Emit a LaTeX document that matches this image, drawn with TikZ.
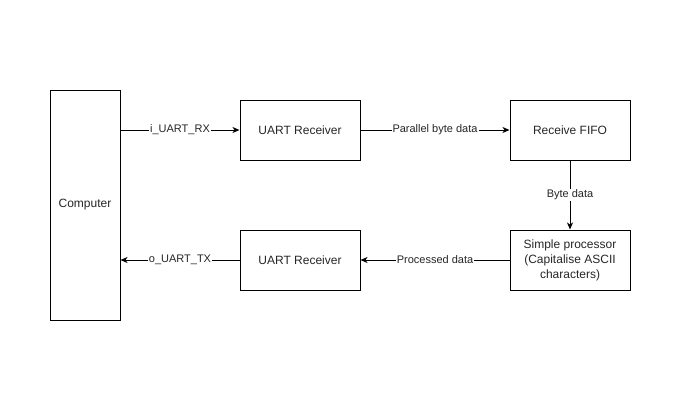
\documentclass[tikz,border=0pt]{standalone}
\usepackage{fontspec}
\setmainfont{Liberation Sans}
\usetikzlibrary{arrows.meta,positioning,calc}

\begin{document}
\begin{tikzpicture}[
  x=1pt, y=-1pt,
  block/.style={
    draw, rectangle, line width=1pt,
    minimum width=120pt, minimum height=60pt,
    align=center, font=\fontsize{12}{15}\selectfont, text=black!85
  },
  edge/.style={-{Stealth[length=7pt,width=6pt,inset=2pt]}, line width=1pt},
  elabel/.style={font=\fontsize{11}{13}\selectfont, fill=white, inner sep=1pt, text=black!85}
]
\useasboundingbox (0,0) rectangle (700,400);

\node[block, minimum width=70pt, minimum height=230pt] (comp) at (85,205) {Computer};
\node[block] (rx)   at (300,130) {UART Receiver};
\node[block] (fifo) at (570,130) {Receive FIFO};
\node[block] (proc) at (570,260) {Simple processor\\(Capitalise ASCII\\characters)};
\node[block] (tx)   at (300,260) {UART Receiver};

\draw[edge] (comp.east |- rx.west) -- (rx.west) node[elabel, midway] {i\_UART\_RX};
\draw[edge] (rx) -- (fifo) node[elabel, midway] {Parallel byte data};
\draw[edge] (fifo) -- (proc) node[elabel, midway] {Byte data};
\draw[edge] (proc) -- (tx) node[elabel, midway] {Processed data};
\draw[edge] (tx.west) -- (comp.east |- tx.west) node[elabel, midway] {o\_UART\_TX};

\end{tikzpicture}
\end{document}
